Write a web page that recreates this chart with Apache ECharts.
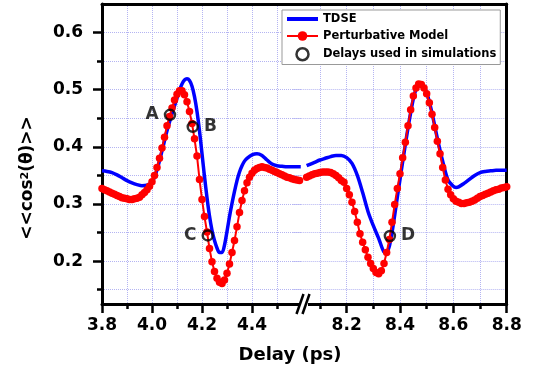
<!DOCTYPE html>
<html><head><meta charset="utf-8">
<script src="https://cdn.jsdelivr.net/npm/echarts@6/dist/echarts.min.js"></script>
<style>html,body{margin:0;padding:0;background:#fff}#c{width:537px;height:377px}</style>
</head><body><div id="c"></div>
<script>
// ---- data ----
const tdseLeft = [[3.80,.358],[3.82,.357],[3.84,.355],[3.86,.351],[3.88,.346],[3.90,.341],[3.92,.337],[3.94,.334],[3.96,.332],[3.98,.333],[4.00,.338],[4.02,.360],[4.04,.393],[4.06,.428],[4.08,.458],[4.10,.485],[4.11,.499],[4.12,.510],[4.13,.517],[4.14,.519],[4.15,.516],[4.16,.506],[4.17,.488],[4.18,.462],[4.19,.428],[4.20,.388],[4.21,.348],[4.22,.311],[4.23,.279],[4.24,.254],[4.25,.236],[4.26,.223],[4.27,.215],[4.28,.215],[4.29,.228],[4.30,.252],[4.31,.278],[4.32,.301],[4.33,.322],[4.34,.341],[4.35,.356],[4.36,.367],[4.37,.375],[4.38,.380],[4.40,.386],[4.42,.388],[4.44,.385],[4.46,.377],[4.48,.370],[4.50,.367],[4.52,.366],[4.54,.365],[4.56,.365],[4.58,.365],[4.595,.365]];
const tdseRight = [[8.05,.367],[8.08,.373],[8.10,.377],[8.12,.380],[8.14,.383],[8.16,.385],[8.18,.385],[8.20,.381],[8.22,.371],[8.24,.350],[8.26,.320],[8.28,.287],[8.30,.262],[8.32,.240],[8.34,.216],[8.35,.215],[8.36,.226],[8.37,.250],[8.38,.280],[8.39,.312],[8.40,.343],[8.41,.374],[8.42,.404],[8.43,.433],[8.44,.460],[8.45,.484],[8.46,.501],[8.47,.510],[8.48,.511],[8.50,.495],[8.52,.459],[8.54,.415],[8.56,.375],[8.58,.342],[8.60,.331],[8.61,.329],[8.62,.330],[8.64,.336],[8.66,.343],[8.68,.350],[8.70,.355],[8.72,.357],[8.74,.358],[8.76,.359],[8.78,.359],[8.80,.359]];
const modelLeft = [[3.80,.327],[3.81,.325],[3.82,.323],[3.83,.321],[3.84,.319],[3.85,.317],[3.86,.315],[3.87,.313],[3.88,.311],[3.89,.310],[3.90,.309],[3.91,.308],[3.92,.308],[3.93,.309],[3.94,.310],[3.95,.312],[3.96,.316],[3.97,.320],[3.98,.325],[3.99,.331],[4.00,.339],[4.01,.350],[4.02,.364],[4.03,.380],[4.04,.398],[4.05,.417],[4.06,.437],[4.07,.453],[4.08,.468],[4.09,.482],[4.10,.492],[4.11,.498],[4.12,.498],[4.13,.491],[4.14,.479],[4.15,.462],[4.16,.441],[4.17,.414],[4.18,.384],[4.19,.343],[4.20,.308],[4.21,.278],[4.22,.251],[4.23,.222],[4.24,.199],[4.25,.182],[4.26,.170],[4.27,.163],[4.28,.161],[4.29,.167],[4.30,.179],[4.31,.195],[4.32,.215],[4.33,.236],[4.34,.260],[4.35,.285],[4.36,.306],[4.37,.323],[4.38,.337],[4.39,.347],[4.40,.354],[4.41,.359],[4.42,.362],[4.43,.364],[4.44,.365],[4.45,.364],[4.46,.363],[4.47,.361],[4.48,.359],[4.49,.357],[4.50,.355],[4.51,.353],[4.52,.351],[4.53,.349],[4.54,.347],[4.55,.346],[4.56,.344],[4.57,.343],[4.58,.342],[4.59,.341]];
const modelRight = [[8.05,.347],[8.06,.349],[8.07,.351],[8.08,.353],[8.09,.354],[8.10,.355],[8.11,.356],[8.12,.356],[8.13,.356],[8.14,.355],[8.15,.353],[8.16,.350],[8.17,.346],[8.18,.341],[8.19,.338],[8.20,.327],[8.21,.316],[8.22,.303],[8.23,.287],[8.24,.268],[8.25,.248],[8.26,.233],[8.27,.220],[8.28,.207],[8.29,.196],[8.30,.187],[8.31,.180],[8.32,.178],[8.33,.183],[8.34,.196],[8.35,.215],[8.36,.238],[8.37,.268],[8.38,.299],[8.39,.327],[8.40,.353],[8.41,.381],[8.42,.408],[8.43,.437],[8.44,.465],[8.45,.489],[8.46,.503],[8.47,.510],[8.48,.509],[8.49,.503],[8.50,.493],[8.51,.477],[8.52,.457],[8.53,.434],[8.54,.410],[8.55,.388],[8.56,.364],[8.57,.342],[8.58,.326],[8.59,.316],[8.60,.309],[8.61,.305],[8.62,.303],[8.63,.301],[8.64,.301],[8.65,.302],[8.66,.303],[8.67,.305],[8.68,.307],[8.69,.310],[8.70,.313],[8.71,.315],[8.72,.317],[8.73,.319],[8.74,.321],[8.75,.323],[8.76,.325],[8.77,.326],[8.78,.328],[8.79,.329],[8.80,.330]];
const delayNames = ['A','B','C','D'];
const delayX = [4.072, 4.163, 4.223, 8.362];
const delayY = [0.456, 0.435, 0.245, 0.244];
const yMajorTicks = [0.2,0.3,0.4,0.5,0.6];
const yAllTicks = [0.15,0.2,0.25,0.3,0.35,0.4,0.45,0.5,0.55,0.6];
const xLeftMajor = [3.8,4.0,4.2,4.4];
const xLeftMinor = [3.9,4.1,4.3,4.5];
const xRightMajor = [8.2,8.4,8.6,8.8];
const xRightMinor = [8.1,8.3,8.5,8.7];
const xLeftRange = [3.8, 4.6];
const xRightRange = [8.0, 8.8];
const yRange = [0.125, 0.65];
const seriesNames = ['TDSE','Perturbative Model','Delays used in simulations'];
const xTitle = 'Delay (ps)';

// ---- styles ----
const FONT = 'DejaVu Sans';
const gridLine = {show:true, lineStyle:{type:'dotted', color:'#b4b4f2', width:1}};
const axisLineStyle = {color:'#000', width:3};
const tickStyle = {color:'#000', width:2.5};
const labelStyle = {fontFamily:FONT, fontWeight:'bold', fontSize:17, color:'#000'};
const labelPos = {A:'left', B:'right', C:'left', D:'right'};

function xAxes(grid, range, major, minor){
  return [
    {gridIndex:grid, type:'value', position:'bottom', min:range[0], max:range[1],
     axisLine:{show:true, onZero:false, lineStyle:axisLineStyle},
     axisTick:{show:true, length:9, lineStyle:tickStyle, customValues:major},
     axisLabel:Object.assign({show:true, margin:13, customValues:major, formatter:v=>v.toFixed(1)}, labelStyle),
     splitLine:gridLine},
    {gridIndex:grid, type:'value', position:'bottom', min:range[0], max:range[1],
     axisLine:{show:false, onZero:false},
     axisTick:{show:true, length:5, lineStyle:tickStyle, customValues:minor},
     axisLabel:{show:false}, splitLine:gridLine},
    {gridIndex:grid, type:'value', position:'top', min:range[0], max:range[1],
     axisLine:{show:true, onZero:false, lineStyle:axisLineStyle},
     axisTick:{show:false}, axisLabel:{show:false}, splitLine:{show:false}}
  ];
}

const delayPoints = delayNames.map((n,i)=>({name:n, value:[delayX[i], delayY[i]], label:{position:labelPos[n]}}));
const scatterStyle = {
  type:'scatter', name:seriesNames[2], symbol:'circle', symbolSize:10, z:5,
  itemStyle:{color:'rgba(255,255,255,0)', borderColor:'#000', borderWidth:2.5},
  label:Object.assign({show:true, formatter:'{b}', distance:5}, labelStyle)
};
const tdseStyle = {type:'line', name:seriesNames[0], symbol:'none', smooth:0.3, z:2,
  lineStyle:{color:'#0000ff', width:3.5}, itemStyle:{color:'#0000ff'}};
const modelStyle = {type:'line', name:seriesNames[1], symbol:'circle', symbolSize:7.5, showAllSymbol:true, z:3,
  lineStyle:{color:'#ff0000', width:2}, itemStyle:{color:'#ff0000'}};

const option = {
  animation:false,
  backgroundColor:'#fff',
  grid:[
    {left:102, top:4, width:200, height:300, containLabel:false},
    {left:293.3, top:4, width:213.4, height:300, containLabel:false}
  ],
  xAxis:[].concat(xAxes(0, xLeftRange, xLeftMajor, xLeftMinor), xAxes(1, xRightRange, xRightMajor, xRightMinor)),
  yAxis:[
    {gridIndex:0, type:'value', position:'left', min:yRange[0], max:yRange[1],
     axisLine:{show:true, onZero:false, lineStyle:axisLineStyle},
     axisTick:{show:true, length:5, lineStyle:tickStyle, customValues:yAllTicks},
     axisLabel:Object.assign({show:true, margin:19, customValues:yMajorTicks, formatter:v=>v.toFixed(1)}, labelStyle),
     splitLine:gridLine},
    {gridIndex:0, type:'value', position:'left', min:yRange[0], max:yRange[1],
     axisLine:{show:false, onZero:false},
     axisTick:{show:true, length:9, lineStyle:tickStyle, customValues:yMajorTicks},
     axisLabel:{show:false}, splitLine:{show:false}},
    {gridIndex:1, type:'value', position:'right', min:yRange[0], max:yRange[1],
     axisLine:{show:true, onZero:false, lineStyle:axisLineStyle},
     axisTick:{show:false, customValues:yAllTicks},
     axisLabel:{show:false}, splitLine:gridLine}
  ],
  legend:{
    left:282, top:10, orient:'vertical', itemWidth:31, itemHeight:12, itemGap:5, itemTextGap:4,
    padding:[3,4,3,3], backgroundColor:'#fff', borderColor:'#999', borderWidth:1,
    selectedMode:false,
    textStyle:{fontFamily:FONT, fontWeight:'bold', fontSize:11.5, color:'#000'},
    data:[
      {name:seriesNames[0], itemStyle:{opacity:0}, lineStyle:{width:4, color:'#0000ff'}},
      {name:seriesNames[1]},
      {name:seriesNames[2], itemStyle:{color:'rgba(255,255,255,0)', borderColor:'#000', borderWidth:2.5}}
    ]
  },
  series:[
    Object.assign({xAxisIndex:0, yAxisIndex:0, data:tdseLeft}, tdseStyle),
    Object.assign({xAxisIndex:3, yAxisIndex:2, data:tdseRight}, tdseStyle),
    Object.assign({xAxisIndex:0, yAxisIndex:0, data:modelLeft}, modelStyle),
    Object.assign({xAxisIndex:3, yAxisIndex:2, data:modelRight}, modelStyle),
    Object.assign({xAxisIndex:0, yAxisIndex:0, data:delayPoints.filter(p=>p.value[0]<xLeftRange[1])}, scatterStyle),
    Object.assign({xAxisIndex:3, yAxisIndex:2, data:delayPoints.filter(p=>p.value[0]>xRightRange[0])}, scatterStyle)
  ],
  graphic:[
    {type:'rect', z:100, shape:{x:299, y:299, width:9, height:9}, style:{fill:'#fff'}},
    {type:'line', z:101, shape:{x1:296.5, y1:314, x2:303.5, y2:294}, style:{stroke:'#000', lineWidth:2.5}},
    {type:'line', z:101, shape:{x1:302.5, y1:314, x2:309.5, y2:294}, style:{stroke:'#000', lineWidth:2.5}},
    {type:'text', z:100, x:290, y:355,
     style:{text:xTitle, font:'bold 18px "DejaVu Sans"', fill:'#000', align:'center', verticalAlign:'middle', textAlign:'center', textVerticalAlign:'middle'}},
    {type:'text', z:100, x:28, y:178, rotation:Math.PI/2,
     style:{text:'{a|<<cos}{s|2}{a|(θ)>>}', fill:'#000', align:'center', verticalAlign:'middle', textAlign:'center', textVerticalAlign:'middle',
       rich:{a:{font:'bold 17px "DejaVu Sans"', fill:'#000'}, s:{font:'bold 11px "DejaVu Sans"', fill:'#000', verticalAlign:'top'}}}}
  ]
};
const chart = echarts.init(document.getElementById('c'), null, {renderer:'canvas'});
chart.setOption(option);
</script>
</body></html>
